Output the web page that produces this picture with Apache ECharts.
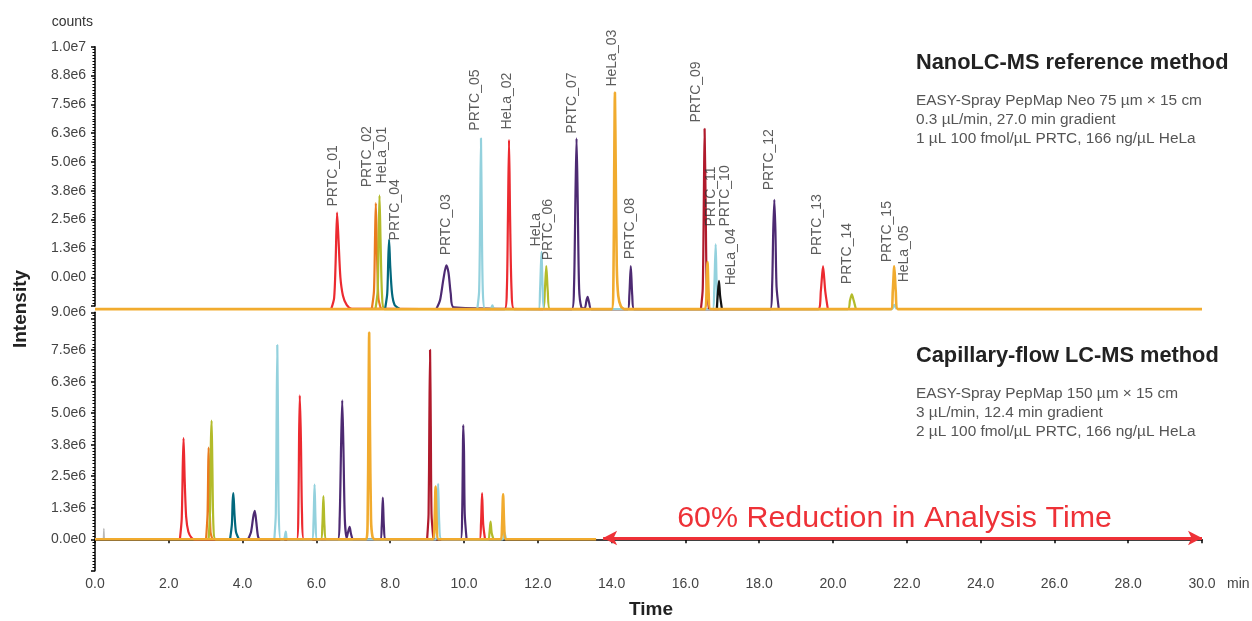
<!DOCTYPE html>
<html>
<head>
<meta charset="utf-8">
<script src="https://cdn.jsdelivr.net/npm/echarts@6/dist/echarts.min.js"></script>
<style>
html,body{margin:0;padding:0;background:#fff;}
#chart{width:1252px;height:621px;}
</style>
</head>
<body>
<div id="chart"></div>
<script>
// ---------- DATA (time in min, intensity in units of 1e6 counts) ----------
const timeMin = 0, timeMax = 30, timeStep = 2;
const intensityStep = 1.25;
const topTickLabels = [0, 1.25, 2.5, 3.75, 5, 6.25, 7.5, 8.75, 10];
const bottomTickLabels = [0, 1.25, 2.5, 3.75, 5, 6.25, 7.5, 9];

// NanoLC-MS reference method (top panel); trace baseline sits at -1.38 on the drawn axis
const topRed = [[6.40,-1.38],[6.48,-0.9],[6.52,0.6],[6.56,2.80],[6.60,1.6],[6.65,0.0],[6.72,-0.8],[6.82,-1.2],[6.95,-1.36],
  [11.10,-1.38],[11.16,-0.6],[11.19,2.5],[11.22,5.96],[11.25,2.5],[11.29,-0.6],[11.36,-1.38],
  [19.60,-1.38],[19.67,-0.6],[19.73,0.48],[19.79,-0.6],[19.86,-1.38]];
const topOrange = [[7.50,-1.38],[7.56,-0.6],[7.59,1.8],[7.61,3.22],[7.64,1.2],[7.68,-0.9],[7.75,-1.38]];
const topLime = [[7.60,-1.38],[7.66,-0.6],[7.69,2.0],[7.71,3.55],[7.74,1.5],[7.78,-0.8],[7.85,-1.38],
  [12.14,-1.38],[12.19,-0.6],[12.23,0.48],[12.27,-0.6],[12.33,-1.38],
  [20.40,-1.38],[20.46,-1.0],[20.51,-0.74],[20.56,-1.0],[20.62,-1.38]];
const topTeal = [[7.86,-1.38],[7.92,-0.7],[7.95,0.9],[7.97,1.63],[8.00,0.5],[8.05,-0.7],[8.12,-1.2],[8.25,-1.36]];
const topPurple = [[9.25,-1.38],[9.35,-1.0],[9.44,-0.1],[9.52,0.52],[9.58,0.2],[9.64,-0.7],[9.72,-1.3],
  [12.92,-1.38],[12.98,-0.5],[13.02,3.5],[13.05,6.03],[13.08,3.5],[13.12,-0.5],[13.18,-1.3],[13.27,-1.35],[13.32,-1.0],[13.35,-0.85],[13.39,-1.1],[13.45,-1.38],
  [14.44,-1.38],[14.48,-0.8],[14.52,0.48],[14.56,-0.8],[14.61,-1.38],
  [18.30,-1.38],[18.35,-0.4],[18.38,2.0],[18.41,3.36],[18.44,2.0],[18.47,-0.4],[18.53,-1.38]];
const topSky = [[10.36,-1.38],[10.41,-0.6],[10.44,3.0],[10.46,6.03],[10.48,3.0],[10.51,-0.6],[10.57,-1.38],
  [10.72,-1.38],[10.77,-1.22],[10.82,-1.38],
  [12.02,-1.38],[12.06,-0.6],[12.10,1.10],[12.13,-0.4],[12.18,-1.38],
  [16.74,-1.38],[16.78,-0.6],[16.82,1.43],[16.85,-0.4],[16.90,-1.38],
  [21.60,-1.38],[21.66,-1.2],[21.72,-1.38]];
const topCrimson = [[16.42,-1.38],[16.47,-0.5],[16.50,3.5],[16.52,6.44],[16.55,3.0],[16.58,-0.5],[16.64,-1.38]];
const topBlack = [[16.85,-1.38],[16.88,-0.7],[16.91,-0.16],[16.94,-0.8],[16.99,-1.38]];
const topAmber = [[0,-1.38],[14.00,-1.38],[14.05,0.0],[14.07,4.5],[14.09,8.01],[14.11,5.0],[14.14,0.5],[14.18,-0.8],[14.25,-1.25],[14.35,-1.38],
  [16.53,-1.38],[16.57,-0.7],[16.60,0.66],[16.63,-0.7],[16.68,-1.38],
  [21.57,-1.38],[21.62,-0.6],[21.66,0.48],[21.70,-0.6],[21.76,-1.38],[30,-1.38]];

const topLabelNames = ['PRTC_01','PRTC_02','HeLa_01','PRTC_04','PRTC_03','PRTC_05','HeLa_02','HeLa','PRTC_06','PRTC_07','HeLa_03','PRTC_08','PRTC_09','PRTC_11','PRTC_10','HeLa_04','PRTC_12','PRTC_13','PRTC_14','PRTC_15','HeLa_05'];
const topLabelTimes = [6.46,7.38,7.79,8.14,9.52,10.31,11.17,11.96,12.28,12.93,14.01,14.50,16.28,16.69,17.09,17.23,18.28,19.58,20.39,21.48,21.94];
const topLabelLevels = [3.07,3.90,4.07,1.60,0.95,6.36,6.41,1.34,0.74,6.23,8.27,0.78,6.71,2.2,2.2,-0.35,3.77,0.95,-0.30,0.65,-0.22];

// Capillary-flow LC-MS method (bottom panel)
const bottomGray = [[0.23,0],[0.24,0.43],[0.25,0]];
const bottomRed = [[2.30,0],[2.35,0.8],[2.38,3.0],[2.40,4.01],[2.43,2.4],[2.47,0.9],[2.53,0.3],[2.62,0.05],[2.70,0],
  [5.47,0],[5.51,1.0],[5.53,4.0],[5.55,5.71],[5.58,4.0],[5.61,1.0],[5.66,0],
  [10.42,0],[10.46,0.6],[10.49,1.83],[10.52,0.6],[10.57,0]];
const bottomOrange = [[3.01,0],[3.05,1.0],[3.07,3.0],[3.08,3.64],[3.10,2.0],[3.13,0.3],[3.18,0]];
const bottomLime = [[3.08,0],[3.12,1.2],[3.14,3.8],[3.16,4.71],[3.18,3.0],[3.21,0.5],[3.27,0],
  [6.12,0],[6.16,0.5],[6.19,1.71],[6.22,0.5],[6.27,0],
  [10.65,0],[10.69,0.25],[10.72,0.70],[10.75,0.25],[10.80,0]];
const bottomTeal = [[3.66,0],[3.71,0.6],[3.73,1.5],[3.75,1.83],[3.78,1.0],[3.82,0.3],[3.90,0]];
const bottomPurple = [[4.15,0],[4.23,0.3],[4.29,0.9],[4.33,1.13],[4.37,0.7],[4.42,0.1],[4.48,0],
  [6.58,0],[6.63,0.8],[6.67,3.8],[6.70,5.51],[6.73,3.8],[6.77,0.8],[6.82,0.05],[6.86,0.3],[6.90,0.49],[6.94,0.2],[7.00,0],
  [7.73,0],[7.77,0.5],[7.80,1.65],[7.83,0.5],[7.88,0],
  [9.91,0],[9.95,1.0],[9.97,3.5],[9.98,4.53],[10.00,3.5],[10.02,1.0],[10.07,0]];
const bottomSky = [[4.86,0],[4.90,1.0],[4.92,4.5],[4.94,7.70],[4.96,4.5],[4.98,1.0],[5.03,0],
  [5.12,0],[5.17,0.3],[5.22,0],
  [5.88,0],[5.92,0.6],[5.95,2.17],[5.98,0.6],[6.02,0],
  [9.23,0],[9.27,0.6],[9.30,2.20],[9.33,0.6],[9.39,0],
  [11.04,0],[11.09,0.3],[11.14,0]];
const bottomCrimson = [[9.00,0],[9.04,1.0],[9.06,4.5],[9.08,7.51],[9.10,4.5],[9.12,1.0],[9.17,0]];
const bottomAmber = [[0,0],[7.35,0],[7.39,1.0],[7.41,4.5],[7.43,8.20],[7.45,4.5],[7.48,0.8],[7.52,0.1],[7.58,0],
  [9.16,0],[9.20,0.6],[9.23,2.09],[9.26,0.6],[9.31,0],
  [11.00,0],[11.03,0.5],[11.06,1.78],[11.09,0.5],[11.13,0],[13.58,0]];

const arrowStart = 13.77, arrowEnd = 30.0, arrowLevel = 0.05;
const arrowText = '60% Reduction in Analysis Time';

// ---------- STYLE ----------
const C = {
  red:'#ec2a30', orange:'#ea7a1e', lime:'#b3bb2a', teal:'#02687d', purple:'#4d2a72',
  sky:'#93d1dd', crimson:'#b01a2c', black:'#111111', amber:'#f1ab2e', gray:'#b8b8b8'
};
const FONT = '"Liberation Sans", Arial, Helvetica, sans-serif';

function fmtExp(v){ return (v*1e6).toExponential(1).replace('e+','e'); }
function makeFormatter(list){
  return function(v){
    for (const t of list) if (Math.abs(t - v) < 1e-6) return fmtExp(t);
    return '';
  };
}
function trace(data, color, grid, width, extra){
  return Object.assign({
    type:'line', data:data, xAxisIndex:grid, yAxisIndex:grid,
    symbol:'none', smooth:0.25, clip:false, silent:true,
    lineStyle:{color:color, width:width||2.2}, z:2
  }, extra||{});
}
function yAxisDef(grid, max, list){
  return {
    type:'value', gridIndex:grid, min:-intensityStep, max:max, interval:intensityStep,
    offset:3,
    axisLine:{show:true, lineStyle:{color:'#000', width:1.5}},
    axisTick:{show:true, length:4, lineStyle:{color:'#000', width:1.5}},
    minorTick:{show:true, splitNumber:10, length:2.5, lineStyle:{color:'#000', width:1}},
    splitLine:{show:false}, minorSplitLine:{show:false},
    axisLabel:{formatter:makeFormatter(list), color:'#444', fontSize:14, fontFamily:FONT, margin:6}
  };
}

const chart = echarts.init(document.getElementById('chart'), null, {renderer:'canvas'});

const labelData = topLabelNames.map((n,i)=>({value:[topLabelTimes[i], topLabelLevels[i]], name:n}));

const arrowMarkLine = {
  silent:true, animation:false, symbol:['arrow','arrow'], symbolSize:[11,14],
  lineStyle:{color:'#ee3137', width:3, type:'solid'},
  label:{show:true, position:'middle', formatter:arrowText, color:'#ee3137', fontSize:30.4, fontFamily:FONT, distance:4, padding:[0,16,0,0]},
  emphasis:{disabled:true},
  data:[[{coord:[arrowStart, arrowLevel]},{coord:[arrowEnd, arrowLevel]}]]
};

const option = {
  animation:false,
  backgroundColor:'#fff',
  grid:[
    {left:95, right:50, top:46.7, height:259.4, outerBoundsMode:'none'},
    {left:95, right:50, top:312.3, height:258.5, outerBoundsMode:'none'}
  ],
  xAxis:[
    {type:'value', gridIndex:0, min:timeMin, max:timeMax, interval:timeStep, show:false},
    {type:'value', gridIndex:1, min:timeMin, max:timeMax, interval:timeStep, offset:-3,
     axisLine:{show:true, lineStyle:{color:'#000', width:1.5}},
     axisTick:{show:true, length:4, lineStyle:{color:'#000', width:1.5}},
     splitLine:{show:false},
     axisLabel:{formatter:v=>v.toFixed(1), color:'#444', fontSize:14, fontFamily:FONT, margin:9}}
  ],
  yAxis:[ yAxisDef(0, 10, topTickLabels), yAxisDef(1, 9, bottomTickLabels) ],
  series:[
    trace(topRed, C.red, 0), trace(topOrange, C.orange, 0), trace(topLime, C.lime, 0),
    trace(topTeal, C.teal, 0), trace(topPurple, C.purple, 0), trace(topSky, C.sky, 0),
    trace(topCrimson, C.crimson, 0), trace(topBlack, C.black, 0), trace(topAmber, C.amber, 0, 2.6, {z:3}),
    {
      type:'scatter', xAxisIndex:0, yAxisIndex:0, data:labelData, symbolSize:0, silent:true, clip:false, z:5,
      itemStyle:{color:'rgba(0,0,0,0)'},
      label:{show:true, formatter:p=>p.name, position:[0,0], rotate:90, align:'left', verticalAlign:'middle',
        color:'#333', fontSize:14, fontFamily:FONT}
    },
    trace(bottomGray, C.gray, 1, 1.5), trace(bottomRed, C.red, 1), trace(bottomOrange, C.orange, 1),
    trace(bottomLime, C.lime, 1), trace(bottomTeal, C.teal, 1), trace(bottomPurple, C.purple, 1),
    trace(bottomSky, C.sky, 1), trace(bottomCrimson, C.crimson, 1),
    trace(bottomAmber, C.amber, 1, 2.6, {z:3, markLine:arrowMarkLine})
  ],
  graphic:[
    {type:'text', silent:true, style:{text:'counts', x:93, y:22, textAlign:'right', textVerticalAlign:'middle', font:'14px '+FONT, fill:'#333'}},
    {type:'text', silent:true, rotation:Math.PI/2, x:21, y:309, style:{text:'Intensity', x:0, y:0, textAlign:'center', textVerticalAlign:'middle', font:'bold 19px '+FONT, fill:'#222'}},
    {type:'text', silent:true, style:{text:'Time', x:651, y:610, textAlign:'center', textVerticalAlign:'middle', font:'bold 19px '+FONT, fill:'#222'}},
    {type:'text', silent:true, style:{text:'min', x:1227, y:584, textAlign:'left', textVerticalAlign:'middle', font:'14px '+FONT, fill:'#444'}},
    {type:'text', silent:true, style:{text:'NanoLC-MS reference method', x:916, y:63, textAlign:'left', textVerticalAlign:'middle', font:'bold 21.8px '+FONT, fill:'#222'}},
    {type:'text', silent:true, style:{text:'EASY-Spray PepMap Neo 75 µm × 15 cm', x:916, y:101, textAlign:'left', textVerticalAlign:'middle', font:'15.4px '+FONT, fill:'#555'}},
    {type:'text', silent:true, style:{text:'0.3 µL/min, 27.0 min gradient', x:916, y:120, textAlign:'left', textVerticalAlign:'middle', font:'15.4px '+FONT, fill:'#555'}},
    {type:'text', silent:true, style:{text:'1 µL 100 fmol/µL PRTC, 166 ng/µL HeLa', x:916, y:139, textAlign:'left', textVerticalAlign:'middle', font:'15.4px '+FONT, fill:'#555'}},
    {type:'text', silent:true, style:{text:'Capillary-flow LC-MS method', x:916, y:356, textAlign:'left', textVerticalAlign:'middle', font:'bold 21.8px '+FONT, fill:'#222'}},
    {type:'text', silent:true, style:{text:'EASY-Spray PepMap 150 µm × 15 cm', x:916, y:394, textAlign:'left', textVerticalAlign:'middle', font:'15.4px '+FONT, fill:'#555'}},
    {type:'text', silent:true, style:{text:'3 µL/min, 12.4 min gradient', x:916, y:413, textAlign:'left', textVerticalAlign:'middle', font:'15.4px '+FONT, fill:'#555'}},
    {type:'text', silent:true, style:{text:'2 µL 100 fmol/µL PRTC, 166 ng/µL HeLa', x:916, y:432, textAlign:'left', textVerticalAlign:'middle', font:'15.4px '+FONT, fill:'#555'}}
  ]
};
chart.setOption(option);
</script>
</body>
</html>
